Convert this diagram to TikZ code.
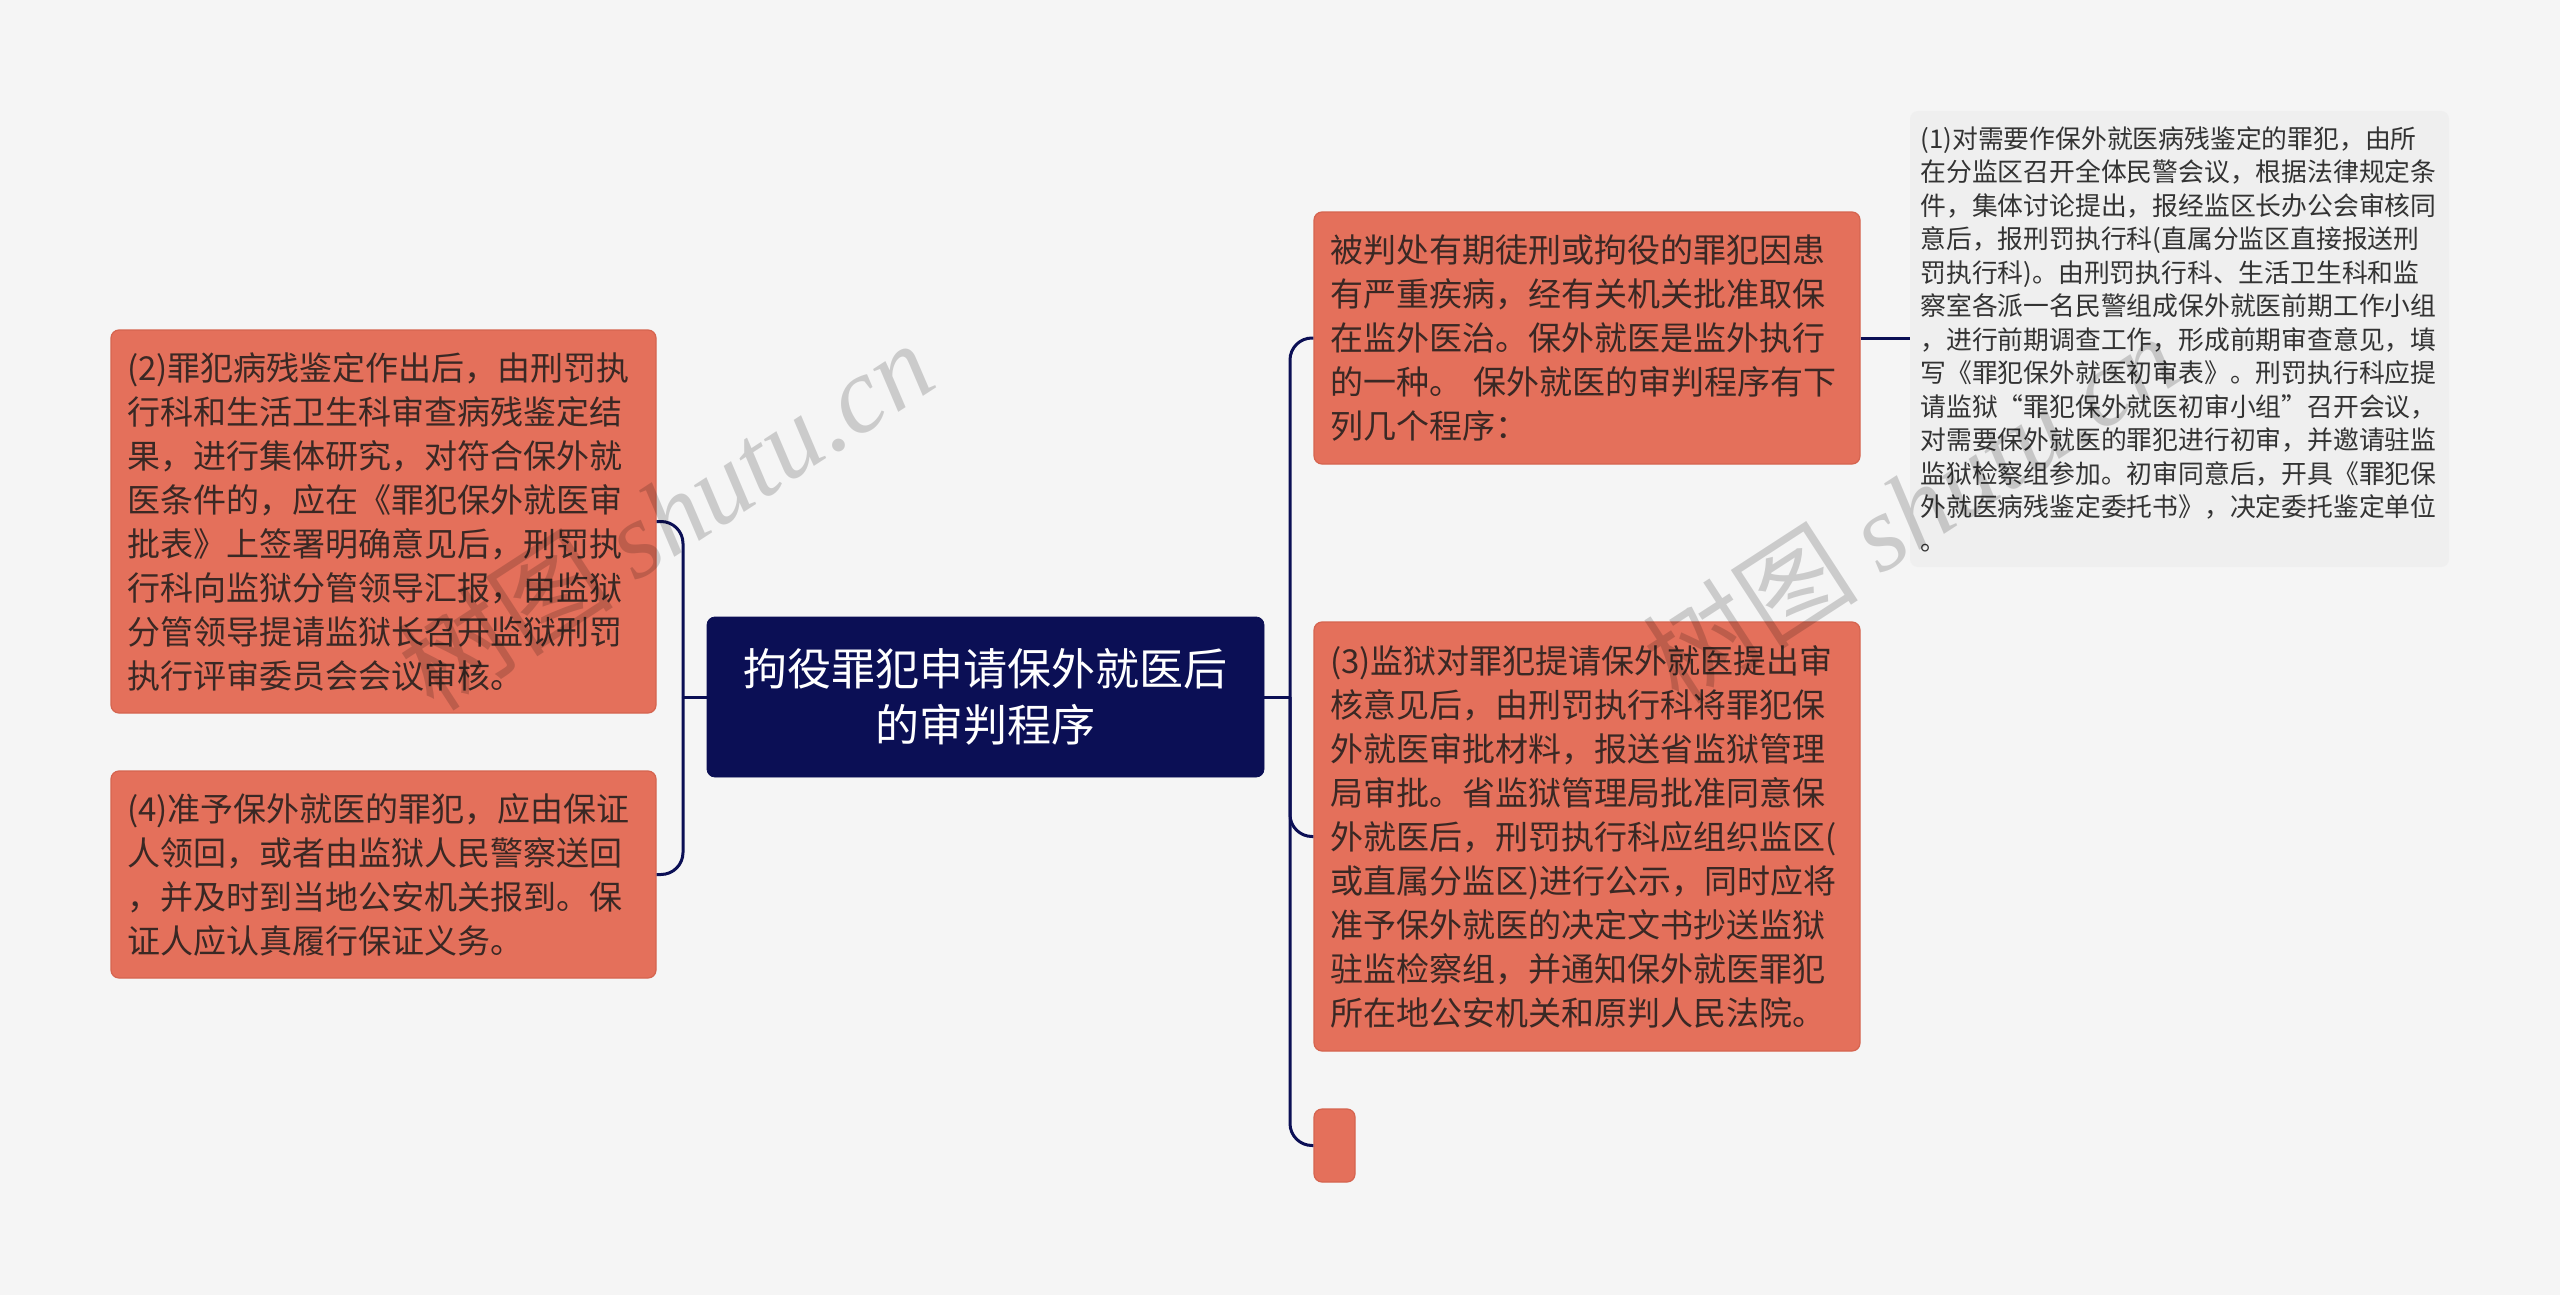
\documentclass[tikz,border=0pt]{standalone}
\usepackage{fontspec}
\setmainfont{Noto Sans CJK SC}
\newfontfamily\wmfont{Liberation Serif}
\definecolor{bgc}{HTML}{F5F5F5}
\definecolor{boxfill}{HTML}{E4705B}
\definecolor{boxline}{HTML}{D5644F}
\definecolor{txt}{HTML}{3A2824}
\definecolor{navy}{HTML}{0B0F55}
\definecolor{farfill}{HTML}{EFEFEF}
\definecolor{fartxt}{HTML}{333333}
\begin{document}
\begin{tikzpicture}[x=0.5pt,y=-0.5pt,
  box/.style={draw=boxline, fill=boxfill, rounded corners=4pt, line width=0.6pt,
    text=txt, align=left, inner xsep=8pt, inner ysep=0pt,
    font=\fontsize{16.5pt}{22pt}\selectfont, text width=257pt, minimum width=273pt},
  emptybox/.style={draw=boxline, fill=boxfill, rounded corners=4pt, line width=0.6pt,
    inner sep=0pt, minimum width=20.5pt, minimum height=36.5pt},
  rootbox/.style={draw=navy, fill=navy, rounded corners=4pt, text=white, align=center,
    inner xsep=8pt, inner ysep=0pt, font=\fontsize{22pt}{27.8pt}\selectfont,
    text width=262pt, minimum width=278.5pt, minimum height=80pt},
  farbox/.style={fill=farfill, rounded corners=4pt, text=fartxt, align=left,
    inner xsep=5.2pt, inner ysep=0pt, font=\fontsize{12.9pt}{16.75pt}\selectfont,
    text width=259pt, minimum width=269.5pt},
  conn/.style={draw=navy, line width=1.5pt},
  wm/.style={text=black, text opacity=0.17, inner sep=0pt,
    font=\fontsize{54pt}{54pt}\selectfont}
]
\fill[bgc] (0,0) rectangle (2560,1295);
\useasboundingbox (0,0) rectangle (2560,1295);

% nodes
\node[rootbox] (root) at (985.5,697) {拘役罪犯申请保外就医后\\的审判程序};

\node[box, minimum height=126pt] (n1) at (1587,338) {被判处有期徒刑或拘役的罪犯因患\\有严重疾病，经有关机关批准取保\\在监外医治。保外就医是监外执行\\的一种。 保外就医的审判程序有下\\列几个程序：};

\node[box, minimum height=214.5pt] (n3) at (1587,836.5) {(3)监狱对罪犯提请保外就医提出审\\核意见后，由刑罚执行科将罪犯保\\外就医审批材料，报送省监狱管理\\局审批。省监狱管理局批准同意保\\外就医后，刑罚执行科应组织监区(\\或直属分监区)进行公示，同时应将\\准予保外就医的决定文书抄送监狱\\驻监检察组，并通知保外就医罪犯\\所在地公安机关和原判人民法院。};

\node[emptybox] (n5) at (1334.5,1145.5) {};

\node[farbox, minimum height=228pt] (nf) at (2179.5,339) {(1)对需要作保外就医病残鉴定的罪犯，由所\\在分监区召开全体民警会议，根据法律规定条\\件，集体讨论提出，报经监区长办公会审核同\\意后，报刑罚执行科(直属分监区直接报送刑\\罚执行科)。由刑罚执行科、生活卫生科和监\\察室各派一名民警组成保外就医前期工作小组\\，进行前期调查工作，形成前期审查意见，填\\写《罪犯保外就医初审表》。刑罚执行科应提\\请监狱“罪犯保外就医初审小组”召开会议，\\对需要保外就医的罪犯进行初审，并邀请驻监\\监狱检察组参加。初审同意后，开具《罪犯保\\外就医病残鉴定委托书》，决定委托鉴定单位\\。};

\node[box, text width=256.5pt, minimum width=272.5pt, minimum height=191.5pt] (n2) at (383.5,521.5) {(2)罪犯病残鉴定作出后，由刑罚执\\行科和生活卫生科审查病残鉴定结\\果，进行集体研究，对符合保外就\\医条件的，应在《罪犯保外就医审\\批表》上签署明确意见后，刑罚执\\行科向监狱分管领导汇报，由监狱\\分管领导提请监狱长召开监狱刑罚\\执行评审委员会会议审核。};

\node[box, text width=256.5pt, minimum width=272.5pt, minimum height=103.5pt] (n4) at (383.5,874.5) {(4)准予保外就医的罪犯，应由保证\\人领回，或者由监狱人民警察送回\\，并及时到当地公安机关报到。保\\证人应认真履行保证义务。};

% connectors
\coordinate (rj) at (1290,697);
\coordinate (lj) at (683,697);
\draw[conn] (root.east) -- (rj);
\draw[conn, rounded corners=11pt] (rj) |- (n1.west);
\draw[conn, rounded corners=11pt] (rj) |- (n3.west);
\draw[conn, rounded corners=11pt] (rj) |- (n5.west);
\draw[conn] (root.west) -- (lj);
\draw[conn, rounded corners=11pt] (lj) |- (n2.east);
\draw[conn, rounded corners=11pt] (lj) |- (n4.east);
\draw[conn] (n1.east) -- (nf.west |- n1.east);

% watermarks
\node[wm, rotate=33] (wm1) at (665,515) {树图 {\wmfont\itshape shutu.cn}};
\node[wm, rotate=33] (wm2) at (1910,508) {树图 {\wmfont\itshape shutu.cn}};
\end{tikzpicture}
\end{document}
